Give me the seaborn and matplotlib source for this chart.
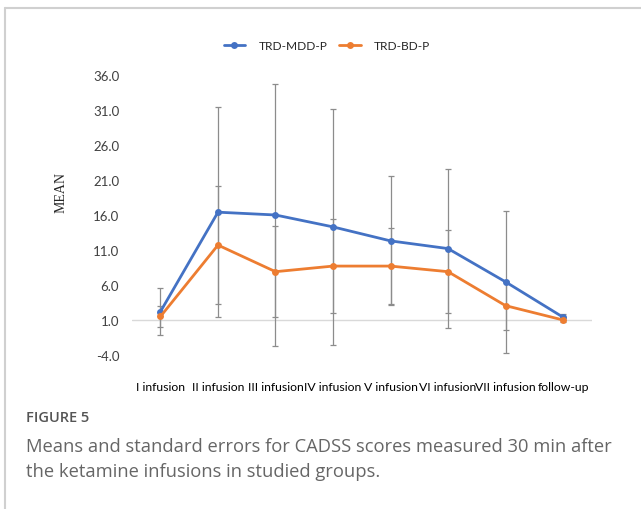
import matplotlib
matplotlib.use("Agg")
import matplotlib.pyplot as plt
import seaborn as sns
import pandas as pd
import numpy as np

categories = ["I infusion", "II infusion", "III infusion", "IV infusion",
              "V infusion", "VI infusion", "VII infusion", "follow-up"]
mdd_mean = [2.2, 16.4, 16.0, 14.3, 12.3, 11.2, 6.45, 1.4]
mdd_se = [3.3, 15.0, 18.7, 16.9, 9.2, 11.4, 10.1, 0.4]
bd_mean = [1.5, 11.7, 7.9, 8.7, 8.7, 7.9, 3.05, 1.0]
bd_se = [1.55, 8.4, 6.5, 6.7, 5.45, 5.95, 3.5, 0.3]
series = ["TRD-MDD-P", "TRD-BD-P"]
yticks = [-4.0, 1.0, 6.0, 11.0, 16.0, 21.0, 26.0, 31.0, 36.0]

colors = {"TRD-MDD-P": "#4472C4", "TRD-BD-P": "#ED7D31"}

sns.set_theme(style="white")
plt.rcParams["font.family"] = ["Lato", "DejaVu Sans"]

df = pd.DataFrame({
    "x": list(range(len(categories))) * 2,
    "mean": mdd_mean + bd_mean,
    "se": mdd_se + bd_se,
    "group": [series[0]] * len(categories) + [series[1]] * len(categories),
})

fig = plt.figure(figsize=(6.41, 5.10), dpi=100)
ax = fig.add_axes([0.2055, 0.302, 0.7177, 0.549])

# error bars (grey)
for g in series:
    sub = df[df.group == g]
    ax.errorbar(sub["x"], sub["mean"], yerr=sub["se"], fmt="none",
                ecolor="#8c8c8c", elinewidth=0.9, capsize=2.2, capthick=0.9,
                zorder=2)

sns.lineplot(data=df, x="x", y="mean", hue="group", hue_order=series,
             palette=colors, marker="o", markersize=5, markeredgewidth=0,
             linewidth=2.0, dashes=False, ax=ax, zorder=3, legend=True)

ax.axhline(1.0, color="#d9d9d9", linewidth=1.0, zorder=1)

ax.set_xlim(-0.5, len(categories) - 0.5)
ax.set_ylim(-4, 36)
ax.set_yticks(yticks)
ax.set_yticklabels([f"{v:.1f}" for v in yticks])
ax.set_xticks(range(len(categories)))
ax.set_xticklabels(categories)
ax.tick_params(axis="y", length=0, pad=9, labelsize=9.5, labelcolor="#404040")
ax.tick_params(axis="x", length=0, pad=19, labelsize=8.8, labelcolor="#000000")
for s in ax.spines.values():
    s.set_visible(False)
ax.set_xlabel("")
ax.set_ylabel("")
ax.grid(False)

fig.text(0.095, 0.622, "MEAN", rotation=90, ha="center", va="center",
         fontsize=10, family=["Liberation Serif"], color="#262626")

handles, labels = ax.get_legend_handles_labels()
ax.legend(handles, labels, loc="center", bbox_to_anchor=(0.51, 0.908),
          bbox_transform=fig.transFigure, ncol=2, frameon=False,
          fontsize=8.6, handlelength=1.8, columnspacing=1.0, handletextpad=1.1)

# figure frame (top and left)
fig.add_artist(plt.Line2D([0.0085, 1.0], [0.983, 0.983], transform=fig.transFigure,
                          color="#d0d0d0", linewidth=1.5))
fig.add_artist(plt.Line2D([0.0085, 0.0085], [0.0, 0.983], transform=fig.transFigure,
                          color="#d0d0d0", linewidth=1.5))

fig.text(0.041, 0.180, "FIGURE 5", fontsize=10.5, color="#555555", fontweight=600,
         family=["Open Sans", "DejaVu Sans"], va="center", ha="left")
fig.text(0.041, 0.124, "Means and standard errors for CADSS scores measured 30 min after",
         fontsize=13.2, color="#666666", family=["Open Sans", "DejaVu Sans"],
         va="center", ha="left")
fig.text(0.041, 0.074, "the ketamine infusions in studied groups.",
         fontsize=13.2, color="#666666", family=["Open Sans", "DejaVu Sans"],
         va="center", ha="left")

fig.savefig("out.png", dpi=100, facecolor="white")
